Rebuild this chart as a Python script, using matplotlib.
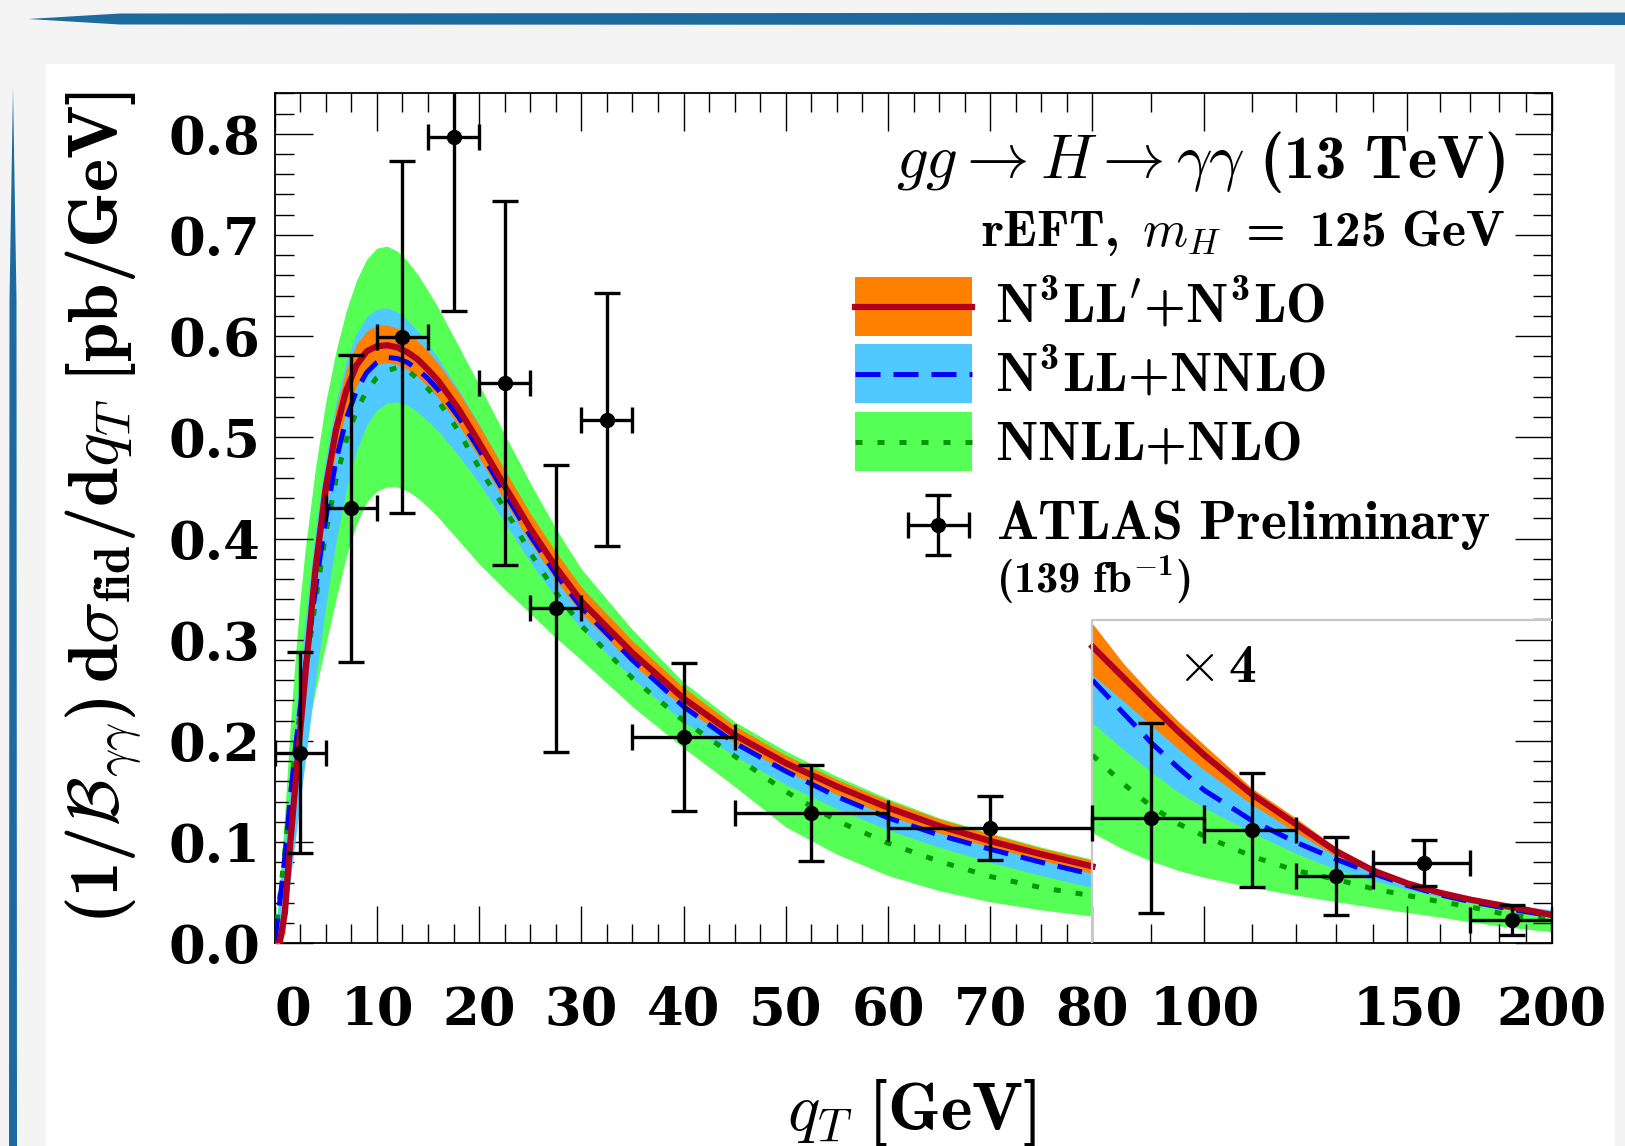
import numpy as np
import matplotlib
matplotlib.use("Agg")
import matplotlib.pyplot as plt
from matplotlib.patches import Rectangle, Polygon
from matplotlib.lines import Line2D

# Computer Modern look: upright text in bold (cmb10), italic math in cmmi10
plt.rcParams["mathtext.fontset"] = "custom"
plt.rcParams["mathtext.rm"] = "cmb10"
plt.rcParams["mathtext.bf"] = "cmb10"
plt.rcParams["mathtext.it"] = "cmmi10"
plt.rcParams["mathtext.cal"] = "cmsy10"
plt.rcParams["mathtext.fallback"] = "cm"
plt.rcParams["font.family"] = "serif"
plt.rcParams["font.serif"] = ["DejaVu Serif"]
plt.rcParams["axes.unicode_minus"] = False

# ---- theory curves, linear part (0-80 GeV), in pb/GeV ----
q_main = [0, 0.5, 1, 1.5, 2, 2.5, 3, 4, 5, 6, 7, 8, 9, 10, 11, 12, 13, 14, 15, 16,
          18, 20, 22.5, 25, 27.5, 30, 35, 40, 45, 50, 55, 60, 65, 70, 75, 80]

# N3LL'+N3LO
n3llp = [0, 0.0, 0.03, 0.095, 0.153, 0.21, 0.265, 0.37, 0.45, 0.507, 0.546, 0.571, 0.585, 0.59, 0.591, 0.589,
         0.584, 0.577, 0.567, 0.556, 0.528, 0.495, 0.452, 0.41, 0.372, 0.338, 0.287, 0.242, 0.206, 0.178,
         0.155, 0.134, 0.116, 0.101, 0.088, 0.076]
n3llp_hi = [0, 0.01, 0.05, 0.115, 0.175, 0.232, 0.288, 0.39, 0.47, 0.528, 0.567, 0.592, 0.605, 0.611, 0.611, 0.608,
            0.603, 0.595, 0.585, 0.573, 0.545, 0.512, 0.468, 0.425, 0.387, 0.352, 0.299, 0.253, 0.215, 0.186,
            0.162, 0.141, 0.123, 0.108, 0.094, 0.082]
n3llp_lo = [0, 0.0, 0.01, 0.075, 0.132, 0.188, 0.243, 0.35, 0.43, 0.487, 0.526, 0.551, 0.565, 0.572, 0.574, 0.572,
            0.567, 0.56, 0.55, 0.539, 0.512, 0.48, 0.437, 0.396, 0.359, 0.326, 0.276, 0.233, 0.198, 0.17,
            0.147, 0.126, 0.109, 0.095, 0.082, 0.069]

# N3LL+NNLO
n3ll = [0, 0.04, 0.085, 0.14, 0.19, 0.232, 0.272, 0.35, 0.42, 0.477, 0.518, 0.546, 0.564, 0.574, 0.579, 0.578,
        0.574, 0.567, 0.558, 0.547, 0.52, 0.488, 0.445, 0.403, 0.365, 0.332, 0.28, 0.234, 0.198, 0.17,
        0.145, 0.124, 0.107, 0.093, 0.08, 0.068]
n3ll_hi = [0, 0.05, 0.1, 0.16, 0.22, 0.272, 0.32, 0.41, 0.48, 0.535, 0.575, 0.603, 0.619, 0.627, 0.628, 0.624,
           0.616, 0.605, 0.592, 0.578, 0.547, 0.513, 0.468, 0.424, 0.386, 0.351, 0.297, 0.251, 0.213, 0.184,
           0.16, 0.139, 0.121, 0.106, 0.093, 0.081]
n3ll_lo = [0, 0.0, 0.02, 0.06, 0.1, 0.14, 0.18, 0.26, 0.333, 0.397, 0.448, 0.486, 0.512, 0.527, 0.534, 0.535,
           0.532, 0.525, 0.516, 0.506, 0.482, 0.455, 0.416, 0.377, 0.342, 0.311, 0.262, 0.219, 0.185, 0.157,
           0.133, 0.112, 0.095, 0.08, 0.067, 0.055]

# NNLL+NLO
nnll = [0, 0.045, 0.09, 0.14, 0.19, 0.228, 0.265, 0.338, 0.405, 0.458, 0.497, 0.526, 0.546, 0.559, 0.566, 0.569,
        0.566, 0.558, 0.548, 0.536, 0.506, 0.47, 0.43, 0.386, 0.347, 0.314, 0.262, 0.22, 0.185, 0.15,
        0.121, 0.099, 0.081, 0.066, 0.055, 0.047]
nnll_hi = [0, 0.06, 0.13, 0.21, 0.28, 0.34, 0.39, 0.47, 0.535, 0.585, 0.625, 0.655, 0.676, 0.687, 0.689, 0.684,
           0.674, 0.661, 0.645, 0.628, 0.59, 0.552, 0.503, 0.455, 0.41, 0.37, 0.31, 0.258, 0.219, 0.19,
           0.165, 0.143, 0.124, 0.109, 0.095, 0.083]
nnll_lo = [0, 0.0, 0.01, 0.06, 0.115, 0.165, 0.2, 0.25, 0.295, 0.34, 0.382, 0.414, 0.436, 0.447, 0.451, 0.451,
           0.447, 0.44, 0.431, 0.421, 0.398, 0.375, 0.35, 0.326, 0.302, 0.28, 0.234, 0.193, 0.155, 0.115,
           0.088, 0.067, 0.052, 0.041, 0.033, 0.027]

# ---- theory curves, log part (80-200 GeV), true values (shown x4) ----
q_tail = [80, 85, 90, 95, 100, 110, 120, 130, 140, 150, 160, 170, 180, 190, 200]
n3llp_t = [0.0733, 0.0658, 0.0588, 0.0523, 0.0465, 0.0368, 0.0295, 0.0228, 0.018, 0.0148, 0.0125, 0.0108, 0.0095, 0.0083, 0.007]
n3llp_t_hi = [0.079, 0.0693, 0.0615, 0.0548, 0.049, 0.0383, 0.031, 0.0238, 0.0188, 0.0154, 0.013, 0.0113, 0.01, 0.0086, 0.0079]
n3llp_t_lo = [0.0663, 0.06, 0.0538, 0.048, 0.0428, 0.0343, 0.0275, 0.0215, 0.0173, 0.0141, 0.012, 0.0104, 0.0091, 0.008, 0.0068]
n3ll_t = [0.065, 0.057, 0.0495, 0.0433, 0.0378, 0.0303, 0.025, 0.0208, 0.0173, 0.0143, 0.012, 0.0103, 0.009, 0.0078, 0.0068]
n3ll_t_hi = [0.0745, 0.067, 0.06, 0.0535, 0.0478, 0.0378, 0.0303, 0.0235, 0.0186, 0.0154, 0.0131, 0.0114, 0.0101, 0.009, 0.0083]
n3ll_t_lo = [0.0545, 0.048, 0.0423, 0.0373, 0.0335, 0.0273, 0.0223, 0.0183, 0.0155, 0.0133, 0.0115, 0.01, 0.009, 0.0075, 0.0065]
nnll_t = [0.0465, 0.0395, 0.0338, 0.0295, 0.0265, 0.0215, 0.018, 0.0158, 0.0135, 0.0118, 0.0103, 0.009, 0.0075, 0.0065, 0.0058]
nnll_t_hi = [0.0775, 0.068, 0.0605, 0.054, 0.0483, 0.0378, 0.0305, 0.0235, 0.0186, 0.0153, 0.0129, 0.0111, 0.0099, 0.0086, 0.0078]
nnll_t_lo = [0.0273, 0.0233, 0.0203, 0.018, 0.0163, 0.0138, 0.0119, 0.0103, 0.0089, 0.0076, 0.0065, 0.0053, 0.0043, 0.0035, 0.0029]

# ---- ATLAS Preliminary data (bins, values, errors) ----
bin_lo = [0, 5, 10, 15, 20, 25, 30, 35, 45, 60]
bin_hi = [5, 10, 15, 20, 25, 30, 35, 45, 60, 80]
atlas_y = [0.1885, 0.4297, 0.599, 0.7966, 0.554, 0.331, 0.5176, 0.2036, 0.129, 0.1138]
atlas_err = [0.0995, 0.152, 0.174, 0.172, 0.18, 0.142, 0.125, 0.073, 0.0475, 0.0313]

bin_lo_t = [80, 100, 120, 140, 170]
bin_hi_t = [100, 120, 140, 170, 200]
atlas_y_t = [0.0309, 0.0279, 0.0167, 0.0198, 0.00565]
atlas_err_t = [0.0235, 0.0141, 0.0096, 0.0056, 0.0037]

x_major = [0, 10, 20, 30, 40, 50, 60, 70, 80, 100, 150, 200]
y_major = [0.0, 0.1, 0.2, 0.3, 0.4, 0.5, 0.6, 0.7, 0.8]

SCALE = 4
X_BREAK = 80
INSET_TOP = 0.3195

GREEN = "#55ff55"
LBLUE = "#4fc9ff"
ORANGE = "#ff8000"
RED = "#b0001e"
BLUE = "#0000ff"
DGREEN = "#009a00"
SLIDE_BLUE = "#1c6a9e"

W, H = 1625, 1146
fig = plt.figure(figsize=(W / 100, H / 100), dpi=100, facecolor="#f4f4f4")


def px(x, y):
    return (x / W, 1 - y / H)


# slide decoration
fig.add_artist(Rectangle((46 / W, 0), (1615 - 46) / W, 1 - 64 / H, transform=fig.transFigure,
                         facecolor="white", edgecolor="none", zorder=-10))
fig.add_artist(Polygon([px(28, 19), px(120, 13.5), px(W, 12.5), px(W, 25), px(120, 24.5)],
                       transform=fig.transFigure, facecolor=SLIDE_BLUE, edgecolor="none", zorder=-5))
fig.add_artist(Polygon([px(13, 88), px(16.5, 300), px(17, H), px(9, H), px(9.5, 300)],
                       transform=fig.transFigure, facecolor=SLIDE_BLUE, edgecolor="none", zorder=-5))

ax = fig.add_axes([274.6 / W, 1 - 943.3 / H, (1551.5 - 274.6) / W, (943.3 - 93.3) / H])

K = 49.0


def fwd(x):
    x = np.asarray(x, dtype=float)
    return np.where(x <= X_BREAK, x, X_BREAK + K * np.log(np.maximum(x, 1e-9) / X_BREAK))


def inv(y):
    y = np.asarray(y, dtype=float)
    return np.where(y <= X_BREAK, y, X_BREAK * np.exp(np.clip((y - X_BREAK) / K, -50, 50)))


ax.set_xscale("function", functions=(fwd, inv))

# bands + central lines
for q, s, sets in [(q_main, 1, (nnll_lo, nnll_hi, n3ll_lo, n3ll_hi, n3llp_lo, n3llp_hi, nnll, n3ll, n3llp)),
                   (q_tail, SCALE, (nnll_t_lo, nnll_t_hi, n3ll_t_lo, n3ll_t_hi, n3llp_t_lo, n3llp_t_hi,
                                    nnll_t, n3ll_t, n3llp_t))]:
    g_lo, g_hi, b_lo, b_hi, o_lo, o_hi, c_g, c_b, c_o = [np.array(a) * s for a in sets]
    ax.fill_between(q, g_lo, g_hi, color=GREEN, lw=0, zorder=1)
    ax.fill_between(q, b_lo, b_hi, color=LBLUE, lw=0, zorder=2)
    ax.fill_between(q, o_lo, o_hi, color=ORANGE, lw=0, zorder=3)
    ax.plot(q, c_g, color=DGREEN, lw=3.6, dashes=(1.4, 3.0), zorder=4)
    ax.plot(q, c_b, color=BLUE, lw=3.6, dashes=(5, 2.6), zorder=5)
    ax.plot(q, c_o, color=RED, lw=4.5, zorder=6)

# inset frame (x4 region)
ax.plot([X_BREAK, X_BREAK, 200], [0, INSET_TOP, INSET_TOP], color="#c8c8c8", lw=1.6, zorder=7)

# data
for lo, hi, yv, ye, s in [(bin_lo, bin_hi, atlas_y, atlas_err, 1),
                          (bin_lo_t, bin_hi_t, atlas_y_t, atlas_err_t, SCALE)]:
    lo, hi = np.array(lo, float), np.array(hi, float)
    xc = (lo + hi) / 2
    ax.errorbar(xc, np.array(yv) * s, xerr=(hi - lo) / 2, yerr=np.array(ye) * s, fmt="o", color="black",
                ms=10, elinewidth=2.4, capsize=9.5, capthick=2.4, zorder=10)

ax.set_xticks(x_major, labels=["%d" % v for v in x_major])
x_minor = list(np.arange(2.5, 80, 2.5)) + [90, 110, 120, 130, 140, 160, 170, 180, 190]
ax.set_xticks(x_minor, minor=True)
ax.set_yticks(y_major, labels=["%.1f" % v for v in y_major])
ax.set_yticks(np.arange(0, 0.841, 0.02), minor=True)

ax.tick_params(which="both", direction="in", top=True, right=True, width=1.0)
ax.tick_params(which="major", length=27, labelsize=38, labelfontfamily="DejaVu Serif")
ax.tick_params(which="minor", length=14)
ax.tick_params(axis="x", which="major", pad=30)
ax.tick_params(axis="y", which="major", pad=10)
for lab in ax.get_xticklabels() + ax.get_yticklabels():
    lab.set_fontweight("bold")
ax.get_xticklabels()[0].set_horizontalalignment("left")
for sp in ax.spines.values():
    sp.set_linewidth(1.3)

# annotations
ax.text(0.9635, 0.9, r"$gg \to H \to \gamma\gamma\ (13\ \mathrm{TeV})$", transform=ax.transAxes,
        ha="right", va="baseline", fontsize=45)
ax.text(0.9635, 0.8207, r"$\mathrm{rEFT},\ m_H\ =\ 125\ \mathrm{GeV}$", transform=ax.transAxes,
        ha="right", va="baseline", fontsize=37)

# legend (drawn by hand to match the layout)
key_x0, key_w, key_h = 0.4545, 0.0916, 0.069
rows = [(0.7145, ORANGE, RED, None, 4.5, r"$\mathrm{N^3LL^{\prime}{+}N^3LO}$", 0.7302),
        (0.6355, LBLUE, BLUE, (5, 2.6), 3.6, r"$\mathrm{N^3LL{+}NNLO}$", 0.6489),
        (0.5555, GREEN, DGREEN, (1.4, 3.0), 3.6, r"$\mathrm{NNLL{+}NLO}$", 0.5694)]
for y0, fc, lc, dash, lw, label, yb in rows:
    ax.add_patch(Rectangle((key_x0, y0), key_w, key_h, transform=ax.transAxes, facecolor=fc,
                           edgecolor="none", zorder=20, clip_on=False))
    ln = Line2D([key_x0, key_x0 + key_w], [y0 + key_h / 2] * 2, transform=ax.transAxes, color=lc,
                lw=lw, zorder=21, clip_on=False)
    if dash:
        ln.set_dashes(dash)
    ax.add_line(ln)
    ax.text(0.5639, yb, label, transform=ax.transAxes, ha="left", va="baseline", fontsize=39)

ax.errorbar([0.5198], [0.4921], xerr=[0.0241], yerr=[0.0353], fmt="o", color="black", ms=10,
            elinewidth=2.4, capsize=9.5, capthick=2.4, transform=ax.transAxes, clip_on=False, zorder=21)
ax.text(0.5648, 0.4753, r"$\mathrm{ATLAS\ Preliminary}$", transform=ax.transAxes, ha="left",
        va="baseline", fontsize=40)
ax.text(0.5648, 0.4125, r"$(139\ \mathrm{fb}^{-1})$", transform=ax.transAxes, ha="left",
        va="baseline", fontsize=32)
ax.text(0.7069, 0.3078, r"$\times\,4$", transform=ax.transAxes, ha="left", va="baseline", fontsize=40)

ax.set_xlim(0, 200)
ax.set_ylim(0, 0.84)

fig.text(912 / W, 1 - 1130 / H, r"$q_T\ [\mathrm{GeV}]$", ha="center", va="baseline", fontsize=48.5)
fig.text(103.5 / W, 1 - 507 / H,
         r"$(1/\mathcal{B}_{\gamma\gamma})\,\mathrm{d}\sigma_{\mathrm{fid}}/\mathrm{d}q_T\ [\mathrm{pb/GeV}]$",
         rotation=90, ha="center", va="center", fontsize=51)

fig.savefig("out.png", dpi=100, facecolor=fig.get_facecolor())
